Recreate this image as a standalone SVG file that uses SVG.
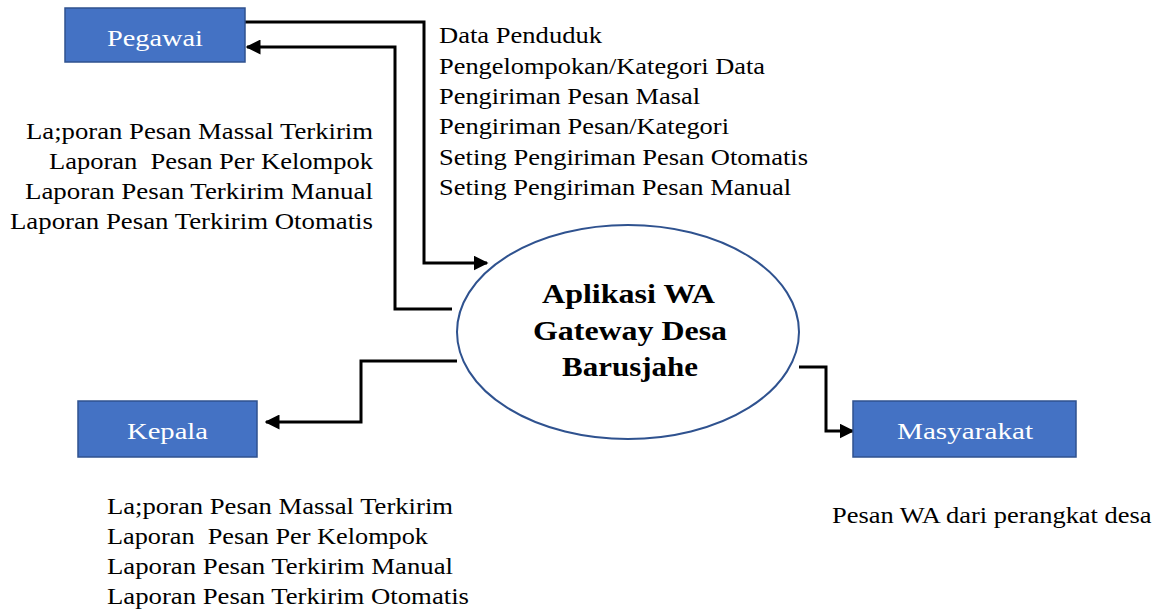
<svg xmlns="http://www.w3.org/2000/svg" width="1171" height="614" viewBox="0 0 1171 614">
<style>
.box{fill:#4472C4;stroke:#2F528F;stroke-width:1.5}
.lbl{font-family:"Liberation Serif","Times New Roman",serif;font-size:24px;fill:#ffffff}
.t{font-family:"Liberation Serif","Times New Roman",serif;font-size:23px;fill:#000}
.c{fill:none;stroke:#000;stroke-width:3}
.title{font-family:"Liberation Serif","Times New Roman",serif;font-size:28px;font-weight:bold;fill:#000}
</style>
<defs>
<marker id="ah" viewBox="0 0 10 10" refX="9" refY="5" markerWidth="5" markerHeight="5" markerUnits="strokeWidth" orient="auto">
<path d="M0,0 L10,5 L0,10 z" fill="#000"/>
</marker>
</defs>
<g id="connectors">
<polyline class="c" points="245,22 424,22 424,263 487,263" marker-end="url(#ah)"/>
<polyline class="c" points="452,309 395,309 395,47 247,47" marker-end="url(#ah)"/>
<polyline class="c" points="457,361 361,361 361,422 266,422" marker-end="url(#ah)"/>
<polyline class="c" points="799,367 826,367 826,431 853,431" marker-end="url(#ah)"/>
</g>
<g id="pegawai">
<rect class="box" x="65" y="8" width="180" height="54"/>
<text class="lbl" x="107" y="46" textLength="96" lengthAdjust="spacingAndGlyphs">Pegawai</text>
</g>
<g id="kepala">
<rect class="box" x="78" y="401" width="179" height="56"/>
<text class="lbl" x="127" y="439" textLength="81" lengthAdjust="spacingAndGlyphs">Kepala</text>
</g>
<g id="masyarakat">
<rect class="box" x="853" y="401" width="223" height="56"/>
<text class="lbl" x="897" y="439" textLength="136" lengthAdjust="spacingAndGlyphs">Masyarakat</text>
</g>
<g id="aplikasi">
<ellipse cx="628" cy="332" rx="171" ry="107" fill="#fff" stroke="#2F528F" stroke-width="2"/>
<text class="title" x="542" y="303" textLength="173" lengthAdjust="spacingAndGlyphs">Aplikasi WA</text>
<text class="title" x="533" y="340" textLength="194" lengthAdjust="spacingAndGlyphs">Gateway Desa</text>
<text class="title" x="562" y="376" textLength="136" lengthAdjust="spacingAndGlyphs">Barusjahe</text>
</g>
<g id="labels">
<text class="t" x="439" y="43" textLength="163" lengthAdjust="spacingAndGlyphs">Data Penduduk</text>
<text class="t" x="439" y="74" textLength="326" lengthAdjust="spacingAndGlyphs">Pengelompokan/Kategori Data</text>
<text class="t" x="439" y="104" textLength="261" lengthAdjust="spacingAndGlyphs">Pengiriman Pesan Masal</text>
<text class="t" x="439" y="134" textLength="290" lengthAdjust="spacingAndGlyphs">Pengiriman Pesan/Kategori</text>
<text class="t" x="439" y="165" textLength="369" lengthAdjust="spacingAndGlyphs">Seting Pengiriman Pesan Otomatis</text>
<text class="t" x="439" y="195" textLength="352" lengthAdjust="spacingAndGlyphs">Seting Pengiriman Pesan Manual</text>
<text class="t" x="26" y="139" textLength="347" lengthAdjust="spacingAndGlyphs">La;poran Pesan Massal Terkirim</text>
<text class="t" x="49" y="169" textLength="324" lengthAdjust="spacingAndGlyphs" xml:space="preserve">Laporan  Pesan Per Kelompok</text>
<text class="t" x="25" y="199" textLength="348" lengthAdjust="spacingAndGlyphs">Laporan Pesan Terkirim Manual</text>
<text class="t" x="10" y="229" textLength="363" lengthAdjust="spacingAndGlyphs">Laporan Pesan Terkirim Otomatis</text>
<text class="t" x="107" y="514" textLength="346" lengthAdjust="spacingAndGlyphs">La;poran Pesan Massal Terkirim</text>
<text class="t" x="107" y="544" textLength="321" lengthAdjust="spacingAndGlyphs" xml:space="preserve">Laporan  Pesan Per Kelompok</text>
<text class="t" x="107" y="574" textLength="346" lengthAdjust="spacingAndGlyphs">Laporan Pesan Terkirim Manual</text>
<text class="t" x="107" y="604" textLength="362" lengthAdjust="spacingAndGlyphs">Laporan Pesan Terkirim Otomatis</text>
<text class="t" transform="translate(832,523) scale(1.15,1)" x="0" y="0">Pesan WA dari perangkat desa</text>
</g>
</svg>
